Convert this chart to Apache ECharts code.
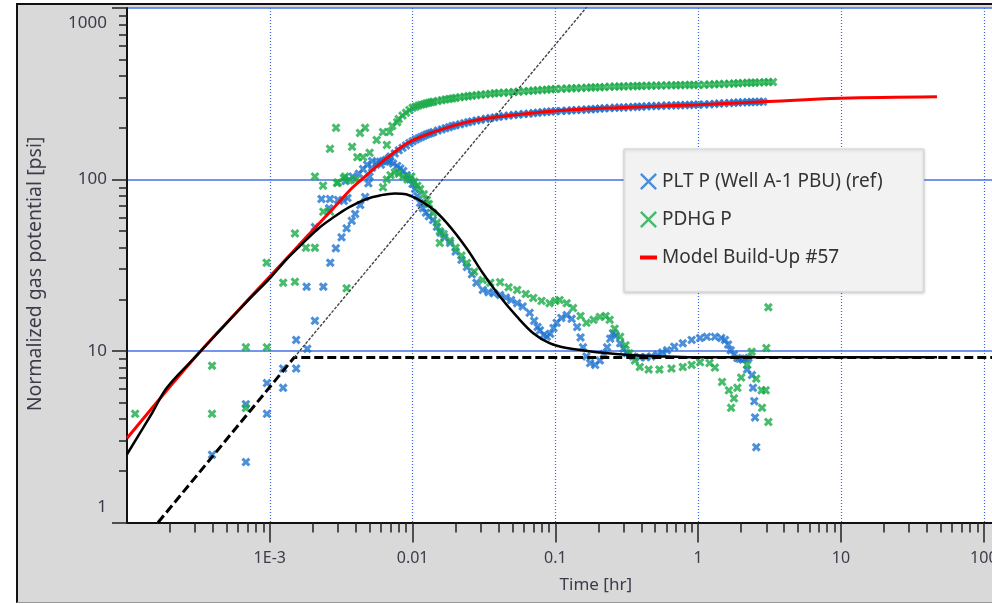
<!DOCTYPE html>
<html>
<head>
<meta charset="utf-8">
<title>Normalized gas potential vs time</title>
<script src="https://cdn.jsdelivr.net/npm/echarts@6/dist/echarts.min.js"></script>
<style>
  html, body { margin: 0; padding: 0; background: #fff; overflow: hidden; }
  #frame {
    position: absolute; left: 16px; top: 3px; right: 0; height: 597px;
    border-left: 2px solid #111; border-top: 2px solid #111; border-bottom: 1px solid #9a9a9a;
    background: #d9d9d9;
  }
  #chart { position: absolute; left: 0; top: 0; width: 992px; height: 604px; }
</style>
</head>
<body>
<div id="frame"></div>
<div id="chart"></div>
<script>
  // axis ticks and labels
  const xMajorTicks = [1e-3, 0.01, 0.1, 1, 10, 100, 1000];
  const xTickLabels = ['1E-3', '0.01', '0.1', '1', '10', '100', '1000'];
  const xDecades = [1e-4, 1e-3, 0.01, 0.1, 1, 10, 100];
  const yMajorTicks = [1, 10, 100, 1000];
  const yTickLabels = ['1', '10', '100', '1000'];
  const yDecades = [1, 10, 100];
  const minorSteps = [2, 3, 4, 5, 6, 7, 8, 9];

  // PLT P (Well A-1 PBU) (ref) : [time hr, psi]
  const pltEarly = [
    [3.94e-4, 2.48], [6.8e-4, 2.25], [6.8e-4, 4.9], [9.55e-4, 4.3], [9.55e-4, 6.5],
    [1.24e-3, 6.1], [1.24e-3, 7.9], [1.53e-3, 7.9], [1.53e-3, 11.6], [1.83e-3, 10.3],
    [2.07e-3, 15], [1.81e-3, 23.7], [2.37e-3, 23.7], [2.65e-3, 32.7], [2.07e-3, 52.8],
    [2.3e-3, 77], [2.64e-3, 77], [2.6e-3, 68], [3.0e-3, 76], [3.3e-3, 75], [3.5e-3, 78]
  ];
  const pltPressure = [
    [3.4e-3, 98], [3.8e-3, 104], [4.2e-3, 108], [4.5e-3, 115], [4.8e-3, 122], [5.2e-3, 128],
    [6.0e-3, 122], [6.5e-3, 130], [6.8e-3, 133], [7.0e-3, 136], [7.5e-3, 142], [8.0e-3, 148],
    [8.5e-3, 153], [9.0e-3, 158], [9.5e-3, 163], [0.010, 167], [0.0105, 171], [0.011, 174],
    [0.0115, 177], [0.012, 180], [0.0125, 183], [0.013, 185], [0.0135, 187], [0.014, 189],
    [0.015, 193], [0.016, 196], [0.017, 199], [0.018, 202], [0.019, 205], [0.020, 207],
    [0.0215, 210], [0.023, 213], [0.0245, 216], [0.026, 218], [0.028, 221], [0.030, 223],
    [0.0325, 226], [0.035, 228], [0.0375, 230], [0.040, 232], [0.0435, 234], [0.047, 236],
    [0.051, 238], [0.055, 239], [0.060, 241], [0.065, 242], [0.070, 244], [0.075, 245],
    [0.081, 247], [0.087, 248], [0.093, 249], [0.10, 250], [0.11, 251], [0.12, 252],
    [0.13, 253], [0.14, 254], [0.152, 255], [0.165, 256], [0.178, 257], [0.19, 258],
    [0.205, 259], [0.22, 260], [0.24, 261], [0.26, 262], [0.28, 263], [0.30, 263],
    [0.325, 264], [0.35, 265], [0.375, 266], [0.40, 266], [0.435, 267], [0.47, 268],
    [0.51, 268], [0.55, 269], [0.60, 270], [0.65, 270], [0.70, 271], [0.75, 271],
    [0.81, 272], [0.87, 272], [0.93, 273], [1.0, 273], [1.1, 274], [1.2, 275],
    [1.3, 276], [1.4, 277], [1.52, 278], [1.65, 279], [1.78, 280], [1.9, 281],
    [2.05, 282], [2.2, 282], [2.35, 283], [2.5, 283], [2.68, 284], [2.85, 284]
  ];
  const pltDerivative = [
    [2.9e-3, 39.7], [3.18e-3, 46], [3.45e-3, 51.9], [3.75e-3, 57.4], [3.96e-3, 63], [4.3e-3, 71],
    [4.65e-3, 79], [4.9e-3, 95], [5.0e-3, 104], [5.2e-3, 117], [5.6e-3, 125], [5.9e-3, 127],
    [6.2e-3, 128], [6.6e-3, 128], [6.9e-3, 127], [7.3e-3, 124], [7.8e-3, 120], [8.2e-3, 116],
    [8.6e-3, 112], [9.1e-3, 106], [9.6e-3, 100], [0.0100, 94], [0.0104, 88], [0.0108, 80],
    [0.0113, 73], [0.0118, 68], [0.0124, 64], [0.0130, 61], [0.0139, 58], [0.0148, 53],
    [0.0157, 49], [0.0167, 46], [0.0183, 42.7], [0.020, 38], [0.022, 34], [0.024, 30.9],
    [0.026, 28], [0.028, 25], [0.031, 22.7], [0.034, 22], [0.037, 21.7], [0.041, 21.2],
    [0.045, 20.5], [0.049, 19.8], [0.054, 19], [0.059, 18.2], [0.066, 16.7], [0.071, 15],
    [0.075, 13.8], [0.078, 13.2], [0.083, 12.4], [0.087, 12.1], [0.092, 12.6], [0.097, 13.6],
    [0.102, 14.6], [0.11, 15.6], [0.12, 16.2], [0.13, 15.4], [0.142, 13.8], [0.15, 12],
    [0.156, 10.5], [0.165, 9.3], [0.175, 8.5], [0.19, 8.3], [0.205, 8.8], [0.218, 9.6],
    [0.23, 10.5], [0.242, 11.8], [0.253, 12.7], [0.265, 12.3], [0.284, 11.1], [0.30, 10.3],
    [0.316, 9.7], [0.35, 9.3], [0.39, 9.2], [0.43, 9.2], [0.47, 9.3], [0.52, 9.5],
    [0.56, 9.8], [0.605, 10.1], [0.68, 10.6], [0.78, 11.1], [0.90, 11.6], [1.03, 11.9],
    [1.15, 12.1], [1.31, 12.1], [1.45, 11.9], [1.54, 11.6], [1.62, 10.9], [1.69, 10.1],
    [1.78, 9.5], [1.88, 9.1], [1.95, 9.0], [2.05, 8.9], [2.15, 9.0], [2.25, 9.1],
    [2.2, 7.8], [2.38, 7.24], [2.42, 6.1], [2.47, 5.1], [2.5, 4.1], [2.55, 2.75]
  ];

  // PDHG P
  const pdhgEarly = [
    [1.14e-4, 4.3], [3.94e-4, 8.2], [3.94e-4, 4.3], [6.8e-4, 10.5], [6.8e-4, 4.65],
    [9.55e-4, 10.5], [9.5e-4, 32.7], [1.24e-3, 25], [1.5e-3, 25.3], [1.5e-3, 48.5],
    [1.79e-3, 40], [2.07e-3, 40], [2.07e-3, 104], [2.36e-3, 92], [2.37e-3, 64.9],
    [2.64e-3, 65], [2.64e-3, 151], [2.91e-3, 200], [2.95e-3, 95.5], [3.0e-3, 96],
    [3.3e-3, 102], [3.37e-3, 104], [3.45e-3, 23.2], [3.6e-3, 99], [3.77e-3, 155],
    [4.0e-3, 100], [4.1e-3, 135], [4.28e-3, 187], [4.5e-3, 135], [4.65e-3, 200],
    [5.0e-3, 143], [6.2e-3, 90]
  ];
  const pdhgPressure = [
    [5.6e-3, 170], [6.2e-3, 189], [6.6e-3, 159], [6.9e-3, 189], [7.2e-3, 205], [7.8e-3, 216],
    [8.0e-3, 225], [8.5e-3, 236], [9.0e-3, 245], [9.5e-3, 254], [0.010, 262], [0.0105, 266],
    [0.011, 270], [0.0115, 273], [0.012, 275], [0.0125, 278], [0.013, 280], [0.0135, 282],
    [0.014, 284], [0.015, 287], [0.016, 290], [0.017, 293], [0.018, 295], [0.019, 297],
    [0.020, 299], [0.0215, 302], [0.023, 304], [0.0245, 306], [0.026, 308], [0.028, 310],
    [0.030, 312], [0.0325, 314], [0.035, 316], [0.0375, 318], [0.040, 319], [0.0435, 321],
    [0.047, 322], [0.051, 324], [0.055, 325], [0.060, 327], [0.065, 328], [0.070, 330],
    [0.075, 331], [0.081, 333], [0.087, 334], [0.093, 336], [0.10, 337], [0.11, 338],
    [0.12, 339], [0.13, 340], [0.14, 341], [0.152, 342], [0.165, 343], [0.178, 344],
    [0.19, 345], [0.205, 345], [0.22, 346], [0.24, 347], [0.26, 348], [0.28, 349],
    [0.30, 349], [0.325, 350], [0.35, 350], [0.375, 351], [0.40, 351], [0.435, 352],
    [0.47, 352], [0.51, 353], [0.55, 353], [0.60, 354], [0.65, 354], [0.70, 355],
    [0.75, 355], [0.81, 356], [0.87, 356], [0.93, 356], [1.0, 356], [1.1, 357],
    [1.2, 358], [1.3, 359], [1.4, 360], [1.52, 361], [1.65, 362], [1.78, 363],
    [1.9, 364], [2.05, 365], [2.2, 366], [2.35, 367], [2.5, 367], [2.68, 368],
    [2.9, 369], [3.1, 370], [3.34, 370]
  ];
  const pdhgDerivative = [
    [6.6e-3, 100], [7.0e-3, 106], [7.5e-3, 110], [8.0e-3, 108], [8.6e-3, 104], [9.2e-3, 100],
    [9.8e-3, 104], [0.0103, 97], [0.0108, 92], [0.0113, 88], [0.012, 82], [0.0126, 76],
    [0.013, 72], [0.0139, 63.8], [0.0148, 56], [0.0155, 50], [0.0155, 42.7], [0.0165, 48],
    [0.0183, 44], [0.020, 40], [0.022, 36], [0.024, 32.6], [0.027, 29], [0.031, 25.9],
    [0.035, 25], [0.041, 25.2], [0.047, 23.5], [0.054, 22.7], [0.062, 21.5], [0.070, 20.4],
    [0.080, 19.6], [0.091, 19], [0.10, 19.6], [0.107, 19.8], [0.12, 19], [0.133, 17.8],
    [0.15, 16], [0.165, 14.6], [0.185, 15.2], [0.205, 15.8], [0.225, 16], [0.24, 15.2],
    [0.26, 13.5], [0.284, 12.1], [0.31, 10.8], [0.33, 9.7], [0.36, 8.8], [0.39, 8.07],
    [0.45, 7.8], [0.535, 7.8], [0.65, 7.9], [0.78, 8.07], [0.90, 8.3], [1.03, 8.6],
    [1.2, 8.5], [1.31, 8.0], [1.47, 6.6], [1.64, 5.9], [1.7, 4.66], [1.78, 5.3],
    [1.88, 6.1], [2.0, 7.0], [2.2, 8.3], [2.37, 9.9], [2.55, 6.9], [2.78, 5.9],
    [2.8, 4.66], [2.97, 5.9], [3.1, 3.86], [3.0, 10.4], [3.1, 18]
  ];

  // Model Build-Up #57
  const modelPressure = [
    [1e-4, 3.1], [2e-4, 6.2], [3e-4, 9.2], [4e-4, 12], [5e-4, 14.6], [7e-4, 19.8],
    [1e-3, 27.2], [1.5e-3, 39.1], [2e-3, 50.6], [3e-3, 72.6], [3.65e-3, 86.9], [4.4e-3, 100],
    [6e-3, 125], [8.2e-3, 153], [0.01, 169], [0.014, 189], [0.024, 216], [0.04, 232],
    [0.1, 251], [0.3, 263], [1, 273], [2.84, 284], [10, 298], [47, 304]
  ];
  const modelDerivative = [
    [1e-4, 2.5], [1.5e-4, 4.35], [1.9e-4, 6.1], [3e-4, 9.2], [5e-4, 14.6], [7e-4, 19.6],
    [1e-3, 26.5], [1.3e-3, 34], [1.63e-3, 41], [2.2e-3, 52], [2.78e-3, 60], [3.6e-3, 69],
    [4.77e-3, 77], [6e-3, 81], [7.5e-3, 83], [9e-3, 82], [0.0133, 69], [0.0174, 55.7],
    [0.024, 39.5], [0.031, 28.5], [0.041, 20.7], [0.054, 15.8], [0.07, 12.7], [0.091, 11.1],
    [0.12, 10.4], [0.205, 9.8], [0.35, 9.45], [0.6, 9.3], [1, 9.2], [47, 9.2]
  ];
  const unitSlopeLine = [[1.65e-4, 1], [1.48e-3, 9.16], [1000, 9.16]];
  const unitSlopeExt = [[1.48e-3, 9.16], [0.2, 1222]];

  const BLUE = '#1f74d0';
  const GREEN = '#1aab48';
  const xMark = 'path://M0,2.4 L2.4,0 L5,2.6 L7.6,0 L10,2.4 L7.4,5 L10,7.6 L7.6,10 L5,7.4 L2.4,10 L0,7.6 L2.6,5 Z';
  const xMarkThin = 'path://M0,1 L1,0 L5,4 L9,0 L10,1 L6,5 L10,9 L9,10 L5,6 L1,10 L0,9 L4,5 Z';
  const dashIcon = 'path://M0,0 H17 V4 H0 Z';

  const xMinorTicks = [];
  xDecades.forEach(d => minorSteps.forEach(s => xMinorTicks.push(d * s)));
  const yMinorTicks = [];
  yDecades.forEach(d => minorSteps.forEach(s => yMinorTicks.push(d * s)));

  function labelFor(ticks, labels, v) {
    let best = 0;
    ticks.forEach((t, i) => {
      if (Math.abs(Math.log10(t) - Math.log10(v)) < Math.abs(Math.log10(ticks[best]) - Math.log10(v))) best = i;
    });
    return Math.abs(Math.log10(ticks[best]) - Math.log10(v)) < 0.01 ? labels[best] : '';
  }

  const FONT = 'Noto Sans';
  const LABEL = '#3b3b4a';

  let myChart = echarts.init(document.getElementById('chart'));
  myChart.setOption({
    animation: false,
    grid: {
      left: 127, top: 8, width: 999.6, height: 514.5,
      outerBoundsMode: 'none', containLabel: false,
      show: true, backgroundColor: '#fff', borderWidth: 0
    },
    // y axis title, placed like the original (rotated, left of the tick labels)
    graphic: [{
      type: 'text', x: 35, y: 274, rotation: Math.PI / 2,
      style: {
        text: 'Normalized gas potential [psi]',
        fontFamily: FONT, fontSize: 19.5, fill: LABEL,
        align: 'center', verticalAlign: 'middle'
      }
    }],
    legend: {
      left: 624, top: 149,
      orient: 'vertical',
      padding: [23, 41, 25, 16],
      itemWidth: 17, itemHeight: 17, itemGap: 19, itemTextGap: 6,
      backgroundColor: '#f2f2f2', borderColor: '#d2d2d2', borderWidth: 1,
      shadowColor: 'rgba(0,0,0,0.18)', shadowBlur: 3, shadowOffsetY: 1,
      textStyle: { fontFamily: FONT, fontSize: 19, color: '#333' },
      data: [
        { name: 'PLT P (Well A-1 PBU) (ref)', icon: xMarkThin },
        { name: 'PDHG P', icon: xMarkThin },
        { name: 'Model Build-Up #57', icon: dashIcon }
      ]
    },
    xAxis: [
      {
        type: 'log', logBase: 10, min: 1e-4, max: 1000, splitNumber: 7,
        position: 'bottom',
        name: 'Time [hr]', nameLocation: 'middle', nameGap: 54,
        nameTextStyle: { fontFamily: FONT, fontSize: 17, color: LABEL, padding: [0, 62, 0, 0] },
        axisLine: { lineStyle: { color: '#111', width: 2 } },
        axisTick: { length: 20, customValues: xMajorTicks, lineStyle: { color: '#222', width: 1.5 } },
        axisLabel: {
          margin: 28, fontFamily: FONT, fontSize: 16, color: LABEL,
          customValues: xMajorTicks,
          formatter: v => labelFor(xMajorTicks, xTickLabels, v)
        },
        splitLine: { show: true, lineStyle: { color: '#3c64f0', type: [1, 2], width: 1.2 } },
        splitArea: { show: false }
      },
      {
        type: 'log', logBase: 10, min: 1e-4, max: 1000, splitNumber: 7,
        position: 'bottom',
        axisLine: { show: false },
        axisTick: { length: 10, customValues: xMinorTicks, lineStyle: { color: '#222', width: 1.5 } },
        axisLabel: { show: false },
        splitLine: { show: false },
        splitArea: { show: false }
      }
    ],
    yAxis: [
      {
        type: 'log', logBase: 10, min: 1, max: 1000, splitNumber: 3,
        position: 'left',
        axisLine: { lineStyle: { color: '#111', width: 2 } },
        axisTick: { length: 15, customValues: yMajorTicks, lineStyle: { color: '#222', width: 1.5 } },
        axisLabel: {
          margin: 20, fontFamily: FONT, fontSize: 17, color: LABEL, lineHeight: 30,
          customValues: yMajorTicks,
          verticalAlignMinLabel: 'bottom', verticalAlignMaxLabel: 'top',
          formatter: v => labelFor(yMajorTicks, yTickLabels, v)
        },
        splitLine: { show: true, lineStyle: { color: '#4472e6', width: 1.5 } },
        splitArea: { show: false }
      },
      {
        type: 'log', logBase: 10, min: 1, max: 1000, splitNumber: 3,
        position: 'left',
        axisLine: { show: false },
        axisTick: { length: 8, customValues: yMinorTicks, lineStyle: { color: '#222', width: 1.5 } },
        axisLabel: { show: false },
        splitLine: { show: false },
        splitArea: { show: false }
      }
    ],
    series: [
      {
        name: 'PLT P (Well A-1 PBU) (ref)', type: 'scatter', z: 2,
        symbol: xMark, symbolSize: 9,
        itemStyle: { color: BLUE },
        data: pltEarly.concat(pltPressure, pltDerivative)
      },
      {
        name: 'PDHG P', type: 'scatter', z: 3,
        symbol: xMark, symbolSize: 9,
        itemStyle: { color: GREEN },
        data: pdhgEarly.concat(pdhgPressure, pdhgDerivative)
      },
      {
        name: 'Model Build-Up #57', type: 'line', z: 4,
        symbol: 'none', smooth: 0.35,
        itemStyle: { color: '#ff0000' },
        lineStyle: { color: '#ff0000', width: 3 },
        data: modelPressure
      },
      {
        name: 'Model derivative', type: 'line', z: 4,
        symbol: 'none', smooth: 0.35,
        lineStyle: { color: '#000', width: 2.5 },
        data: modelDerivative
      },
      {
        name: 'Unit slope', type: 'line', z: 5,
        symbol: 'none',
        lineStyle: { color: '#000', width: 3, type: [9, 4] },
        data: unitSlopeLine
      },
      {
        name: 'Unit slope ext', type: 'line', z: 5,
        symbol: 'none',
        lineStyle: { color: '#444', width: 1.4, type: [3, 1.5] },
        data: unitSlopeExt
      }
    ]
  });
</script>
</body>
</html>
